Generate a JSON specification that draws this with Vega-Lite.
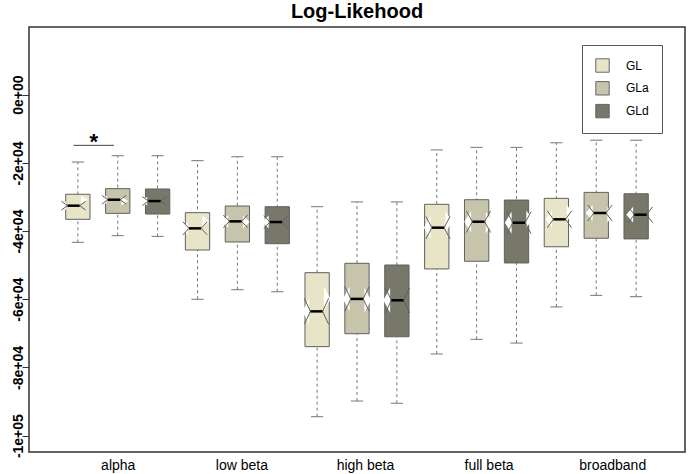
{
  "$schema": "https://vega.github.io/schema/vega-lite/v6.json",
  "width": 656,
  "height": 425,
  "autosize": "none",
  "padding": {"left": 29, "top": 27, "right": 4, "bottom": 22},
  "config": {
    "font": "Liberation Sans",
    "view": {"stroke": "#333333", "strokeWidth": 1.5},
    "axis": {"grid": false}
  },
  "title": {"text": "Log-Likehood", "fontSize": 20, "fontWeight": "bold", "font": "Liberation Sans", "color": "black", "anchor": "middle", "baseline": "alphabetic", "offset": 6.5, "dy": 17},
  "datasets": {
    "boxes": [
      {"group": "alpha", "series": "GL", "lo": -43300, "q1": -36550, "nlo": -33840, "med": -32550, "nhi": -31260, "q3": -29200, "hi": -19750},
      {"group": "alpha", "series": "GLa", "lo": -41350, "q1": -34800, "nlo": -32070, "med": -30800, "nhi": -29530, "q3": -27550, "hi": -17900},
      {"group": "alpha", "series": "GLd", "lo": -41550, "q1": -35000, "nlo": -32490, "med": -31200, "nhi": -29910, "q3": -27650, "hi": -17900},
      {"group": "low beta", "series": "GL", "lo": -60000, "q1": -45550, "nlo": -41120, "med": -39200, "nhi": -37280, "q3": -34600, "hi": -19350},
      {"group": "low beta", "series": "GLa", "lo": -57200, "q1": -43200, "nlo": -39000, "med": -37150, "nhi": -35300, "q3": -32650, "hi": -18200},
      {"group": "low beta", "series": "GLd", "lo": -57800, "q1": -43700, "nlo": -39250, "med": -37350, "nhi": -35450, "q3": -32850, "hi": -18200},
      {"group": "high beta", "series": "GL", "lo": -94450, "q1": -73900, "nlo": -67350, "med": -63550, "nhi": -59750, "q3": -52200, "hi": -32850},
      {"group": "high beta", "series": "GLa", "lo": -89850, "q1": -70100, "nlo": -63510, "med": -59900, "nhi": -56290, "q3": -49450, "hi": -31450},
      {"group": "high beta", "series": "GLd", "lo": -90500, "q1": -71000, "nlo": -63980, "med": -60300, "nhi": -56620, "q3": -49950, "hi": -31450},
      {"group": "full beta", "series": "GL", "lo": -76050, "q1": -51100, "nlo": -42320, "med": -39000, "nhi": -35680, "q3": -32150, "hi": -16200},
      {"group": "full beta", "series": "GLa", "lo": -71750, "q1": -48850, "nlo": -40410, "med": -37250, "nhi": -34090, "q3": -30800, "hi": -15450},
      {"group": "full beta", "series": "GLd", "lo": -72850, "q1": -49350, "nlo": -40780, "med": -37550, "nhi": -34320, "q3": -30900, "hi": -15450},
      {"group": "broadband", "series": "GL", "lo": -62250, "q1": -44600, "nlo": -39040, "med": -36550, "nhi": -34070, "q3": -30400, "hi": -14100},
      {"group": "broadband", "series": "GLa", "lo": -58850, "q1": -42100, "nlo": -37050, "med": -34700, "nhi": -32350, "q3": -28650, "hi": -13350},
      {"group": "broadband", "series": "GLd", "lo": -59250, "q1": -42300, "nlo": -37520, "med": -35200, "nhi": -32880, "q3": -29050, "hi": -13350}
    ],
    "ann": [
      {"from": 1, "to": 2, "mid": 1.5, "y": -14850, "label": "*"}
    ]
  },
  "layer": [
    {
      "data": {"name": "boxes"},
      "transform": [{"window": [{"op": "row_number", "as": "slot"}]}],
      "encoding": {
        "x": {
          "field": "slot", "type": "quantitative",
          "scale": {"domain": [-0.1, 16.1], "nice": false, "zero": false},
          "axis": {
            "title": null, "values": [2, 5.1, 8.2, 11.3, 14.4],
            "labelExpr": "datum.value < 3 ? 'alpha' : datum.value < 6 ? 'low beta' : datum.value < 9 ? 'high beta' : datum.value < 12 ? 'full beta' : 'broadband'",
            "ticks": false, "domain": false, "labelFontSize": 14, "labelColor": "black",
            "labelPadding": 6, "labelFlush": false, "labelOverlap": false
          }
        }
      },
      "layer": [
        {
          "mark": {"type": "rule", "stroke": "#777777", "strokeDash": [3, 3], "strokeWidth": 1},
          "encoding": {
            "y": {
              "field": "lo", "type": "quantitative",
              "scale": {"domain": [-104800, 19860], "nice": false, "zero": false},
              "axis": {
                "title": null, "values": [0, -20000, -40000, -60000, -80000, -100000],
                "labelExpr": "datum.value == 0 ? '0e+00' : datum.value == -100000 ? '-1e+05' : '-' + (-datum.value / 10000) + 'e+04'",
                "domain": false, "tickSize": 7, "tickColor": "#333333", "labelAngle": -90,
                "labelAlign": "center", "labelBaseline": "alphabetic", "labelPadding": 0,
                "labelFontSize": 14, "labelFontWeight": "bold", "labelColor": "black"
              }
            },
            "y2": {"field": "hi"}
          }
        },
        {
          "transform": [{"fold": ["lo", "hi"], "as": ["capkey", "capv"]}],
          "mark": {"type": "rule", "stroke": "#777777", "strokeWidth": 1, "xOffset": -6.1, "x2Offset": 6.1},
          "encoding": {
            "x2": {"field": "slot"},
            "y": {"field": "capv", "type": "quantitative"}
          }
        },
        {
          "mark": {"type": "bar", "width": 24.3, "stroke": "#606060", "strokeWidth": 1},
          "encoding": {
            "y": {"field": "q1", "type": "quantitative"},
            "y2": {"field": "q3"},
            "color": {
              "field": "series", "type": "nominal",
              "scale": {"domain": ["GL", "GLa", "GLd"], "range": ["#e7e4c8", "#c6c4aa", "#77776a"]},
              "legend": {
                "orient": "none", "legendX": 553, "legendY": 18, "title": null,
                "strokeColor": "#555555", "fillColor": "white", "padding": 13,
                "symbolType": "square", "symbolSize": 180, "symbolStrokeColor": "#666666",
                "symbolStrokeWidth": 1, "symbolOpacity": 1, "labelFontSize": 12, "labelColor": "black",
                "labelOffset": 16, "rowPadding": 3.8
              }
            },
            "opacity": {"value": 1}
          }
        }
      ]
    },
    {
      "data": {"name": "boxes"},
      "transform": [
        {"window": [{"op": "row_number", "as": "slot"}]},
        {"fold": ["nhi", "med"], "as": ["k", "yv"]},
        {"fold": ["nlo", "med"], "as": ["k2", "yv2"]},
        {"filter": "(datum.k == 'nhi' && datum.k2 == 'nlo') || (datum.k == 'med' && datum.k2 == 'med')"}
      ],
      "encoding": {
        "x": {"field": "slot", "type": "ordinal", "bandPosition": 0.5, "scale": {"paddingInner": 0, "paddingOuter": 0.6}, "axis": null},
        "y": {"field": "yv", "type": "quantitative", "stack": null},
        "y2": {"field": "yv2"},
        "detail": {"field": "slot", "type": "ordinal"}
      },
      "layer": [
        {
          "mark": {"type": "area", "fill": "white", "orient": "vertical"},
          "encoding": {
            "xOffset": {"field": "k", "type": "nominal", "scale": {"type": "point", "domain": ["nhi", "med"], "range": [-12.9, -6.1], "padding": 0}}
          }
        },
        {
          "mark": {"type": "area", "fill": "white", "orient": "vertical"},
          "encoding": {
            "xOffset": {"field": "k", "type": "nominal", "scale": {"type": "point", "domain": ["nhi", "med"], "range": [12.9, 6.1], "padding": 0}}
          }
        }
      ],
      "resolve": {"scale": {"xOffset": "independent"}}
    },
    {
      "data": {"name": "boxes"},
      "transform": [{"window": [{"op": "row_number", "as": "slot"}]}],
      "encoding": {
        "x": {"field": "slot", "type": "quantitative", "scale": {"domain": [-0.1, 16.1], "nice": false, "zero": false}, "axis": null}
      },
      "layer": [
        {
          "transform": [{"fold": ["nhi", "nlo"], "as": ["nk", "nv"]}],
          "mark": {"type": "rule", "stroke": "#606060", "strokeWidth": 1, "xOffset": -12.15, "x2Offset": -6.075},
          "encoding": {
            "x2": {"field": "slot"},
            "y": {"field": "nv", "type": "quantitative"},
            "y2": {"field": "med"}
          }
        },
        {
          "transform": [{"fold": ["nhi", "nlo"], "as": ["nk", "nv"]}],
          "mark": {"type": "rule", "stroke": "#606060", "strokeWidth": 1, "xOffset": 12.15, "x2Offset": 6.075},
          "encoding": {
            "x2": {"field": "slot"},
            "y": {"field": "nv", "type": "quantitative"},
            "y2": {"field": "med"}
          }
        },
        {
          "mark": {"type": "rule", "stroke": "black", "strokeWidth": 2.5, "xOffset": -6.1, "x2Offset": 6.1},
          "encoding": {
            "x2": {"field": "slot"},
            "y": {"field": "med", "type": "quantitative"}
          }
        }
      ]
    },
    {
      "data": {"name": "ann"},
      "encoding": {
        "x": {"field": "from", "type": "quantitative", "scale": {"domain": [-0.1, 16.1], "nice": false, "zero": false}, "axis": null}
      },
      "layer": [
        {
          "mark": {"type": "rule", "stroke": "#444444", "strokeWidth": 1},
          "encoding": {
            "x2": {"field": "to"},
            "y": {"field": "y", "type": "quantitative"}
          }
        },
        {
          "mark": {"type": "text", "fontSize": 22, "fontWeight": "bold", "baseline": "alphabetic", "dy": 3.5, "color": "black"},
          "encoding": {
            "x": {"field": "mid", "type": "quantitative", "scale": {"domain": [-0.1, 16.1], "nice": false, "zero": false}, "axis": null},
            "y": {"field": "y", "type": "quantitative"},
            "text": {"field": "label"}
          }
        }
      ]
    }
  ],
  "resolve": {"scale": {"x": "independent"}}
}
